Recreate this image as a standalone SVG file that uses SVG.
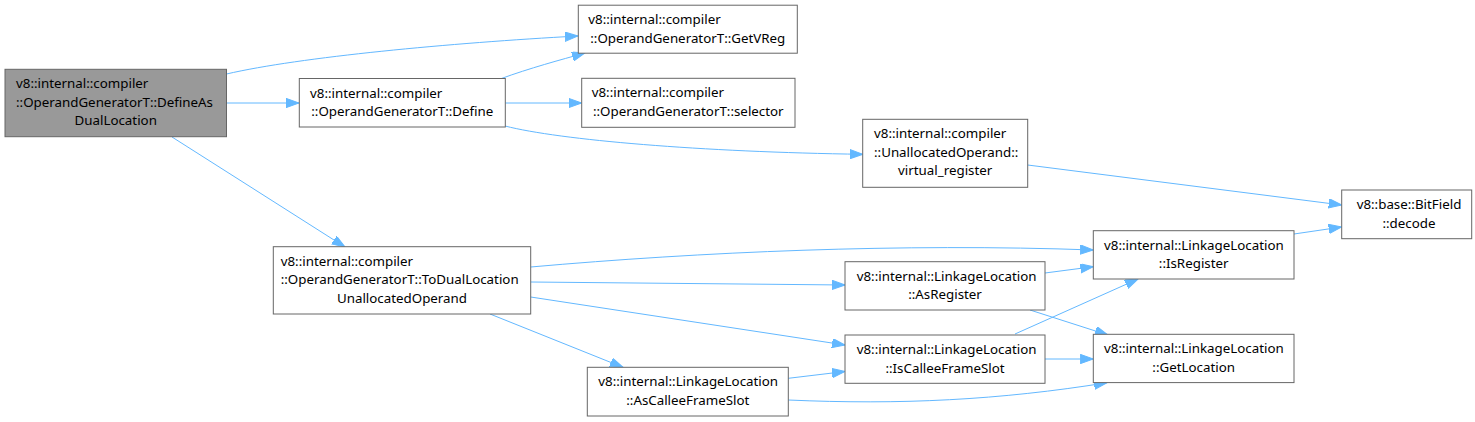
<svg xmlns="http://www.w3.org/2000/svg" width="1475" height="422" viewBox="0 0 1475 422">
<style>
.n rect{fill:#ffffff;stroke:#666666;stroke-width:1}
.root rect{fill:#999999}
text{font-family:"Noto Sans","Liberation Sans",sans-serif;font-size:13.33px;fill:#000000}
.c{text-anchor:middle}
.e path{fill:none;stroke:#63b8ff;stroke-width:1;marker-end:url(#ah)}
</style>
<defs>
<marker id="ah" markerUnits="userSpaceOnUse" markerWidth="14" markerHeight="10" refX="13" refY="4.65" orient="auto">
<path d="M0,0 L13,4.65 L0,9.3 z" fill="#63b8ff" stroke="#63b8ff" stroke-width="1"/>
</marker>
</defs>
<g id="edges" class="e">
<path d="M226.5,74 C300,57 450,43 578,36"/>
<path d="M226.5,103 L299,103"/>
<path d="M172,137 L345,247"/>
<path d="M500,79 C530,68 560,60 585,53"/>
<path d="M505.3,103 L581.7,103"/>
<path d="M505,126 C560,140 700,152 862.7,154.3"/>
<path d="M1027.7,165 L1341.7,205"/>
<path d="M1294,234 L1341.7,227"/>
<path d="M530.7,267 C700,252 900,243 1093.3,250"/>
<path d="M530.7,282 L845,285"/>
<path d="M530.7,297 L845,345"/>
<path d="M490,314 L623,367.3"/>
<path d="M1045,273 L1093.3,266.7"/>
<path d="M1030,310 L1108,335"/>
<path d="M1015,334 L1138,279"/>
<path d="M1045,359 L1093.3,359"/>
<path d="M788.3,378.3 L845,371.5"/>
<path d="M788.3,400 C900,405 1000,400 1107,382.7"/>
</g>
<g id="n1" class="n root">
<rect x="5" y="69.3" width="221.5" height="67.4"/>
<text x="16" y="88.3">v8::internal::compiler</text>
<text x="16" y="106.8">::OperandGeneratorT::DefineAs</text>
<text class="c" x="115.7" y="125.3">DualLocation</text>
</g>
<g id="n2" class="n">
<rect x="299.3" y="78.5" width="206" height="48.5"/>
<text x="310" y="97.5">v8::internal::compiler</text>
<text class="c" x="402.3" y="116">::OperandGeneratorT::Define</text>
</g>
<g id="n3" class="n">
<rect x="578.3" y="5.2" width="219" height="48"/>
<text x="588.3" y="24.2">v8::internal::compiler</text>
<text class="c" x="687.8" y="42.7">::OperandGeneratorT::GetVReg</text>
</g>
<g id="n4" class="n">
<rect x="581.7" y="78.3" width="213.3" height="49"/>
<text x="591.7" y="97.3">v8::internal::compiler</text>
<text class="c" x="688.3" y="115.8">::OperandGeneratorT::selector</text>
</g>
<g id="n5" class="n">
<rect x="862.7" y="119.3" width="165" height="68"/>
<text x="874" y="138.3">v8::internal::compiler</text>
<text x="874" y="156.8">::UnallocatedOperand::</text>
<text class="c" x="945.2" y="175.3">virtual_register</text>
</g>
<g id="n6" class="n">
<rect x="1341.7" y="190" width="130" height="48.7"/>
<text class="c" x="1409" y="209">v8::base::BitField</text>
<text class="c" x="1409" y="227.5">::decode</text>
</g>
<g id="n7" class="n">
<rect x="273.3" y="246.7" width="257.4" height="67.3"/>
<text x="280.7" y="265.7">v8::internal::compiler</text>
<text x="280.7" y="284.2">::OperandGeneratorT::ToDualLocation</text>
<text class="c" x="402" y="302.7">UnallocatedOperand</text>
</g>
<g id="n8" class="n">
<rect x="1093.3" y="230.7" width="200.7" height="48.3"/>
<text x="1104" y="249.7">v8::internal::LinkageLocation</text>
<text class="c" x="1193.7" y="268.2">::IsRegister</text>
</g>
<g id="n9" class="n">
<rect x="845" y="261.7" width="200" height="48.3"/>
<text x="856.7" y="280.7">v8::internal::LinkageLocation</text>
<text class="c" x="945" y="299.2">::AsRegister</text>
</g>
<g id="n10" class="n">
<rect x="845" y="335" width="200" height="48.3"/>
<text x="856.7" y="354">v8::internal::LinkageLocation</text>
<text class="c" x="945" y="372.5">::IsCalleeFrameSlot</text>
</g>
<g id="n11" class="n">
<rect x="1093.3" y="334.3" width="200.7" height="48.3"/>
<text x="1104" y="353.3">v8::internal::LinkageLocation</text>
<text class="c" x="1193.7" y="371.8">::GetLocation</text>
</g>
<g id="n12" class="n">
<rect x="587.3" y="367.3" width="201" height="48.7"/>
<text x="598.3" y="386.3">v8::internal::LinkageLocation</text>
<text class="c" x="687.8" y="404.8">::AsCalleeFrameSlot</text>
</g>
</svg>
